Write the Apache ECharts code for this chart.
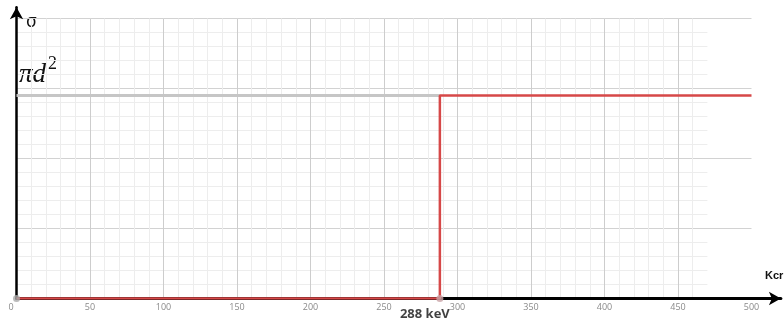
<!DOCTYPE html>
<html>
<head>
<meta charset="utf-8">
<script src="https://cdn.jsdelivr.net/npm/echarts@6/dist/echarts.min.js"></script>
<style>html,body{margin:0;padding:0;background:#fff}#c{width:784px;height:322px}</style>
</head>
<body>
<div id="c"></div>
<script>
// ---- data ----
const thresholdKeV = 288;
const sigmaLevel = 145;           // level of pi d^2 on the y scale (0..200)
const stepX = [0, 288, 288, 500];
const stepY = [0, 0, 145, 145];
const levelX = [0, 288];
const levelY = [145, 145];
const pointX = [0, 288];
const pointY = [0, 0];
const xTickStep = 50;
const xTickMax = 500;
const thresholdLabel = '288 keV';
const xName = 'Kcr';
const yName = 'σ';

const zip = (a, b) => a.map((v, i) => [v, b[i]]);

const L = 16.5, PX = 1.47, BASE = 298.5, PY = 1.4;
const chart = echarts.init(document.getElementById('c'));
const hidden = { axisLine: { show: false }, axisTick: { show: false }, axisLabel: { show: false } };

chart.setOption({
  animation: false,
  grid: [
    { left: L, top: BASE - 200 * PY, width: 470 * PX, height: 200 * PY },
    { left: L, top: BASE - 200 * PY, width: 470 * PX, height: 200 * PY },
    { left: L, top: BASE - 200 * PY, width: 500 * PX, height: 200 * PY },
    { left: L, top: BASE - 208 * PY, width: 520 * PX, height: 208 * PY }
  ],
  xAxis: [
    Object.assign({ gridIndex: 0, type: 'value', min: 0, max: 470, interval: 10,
      splitLine: { show: true, showMaxLine: false, lineStyle: { color: '#ededed', width: 1 } } }, hidden),
    Object.assign({ gridIndex: 1, type: 'value', min: 0, max: 470, interval: 50,
      splitLine: { show: true, showMaxLine: false, showMinLine: false, lineStyle: { color: '#cdcdcd', width: 1 } } }, hidden),
    Object.assign({ gridIndex: 2, type: 'value', min: 0, max: 500, interval: 50, splitLine: { show: false } }, hidden),
    { gridIndex: 3, type: 'value', min: 0, max: 520, interval: xTickStep,
      splitLine: { show: false },
      axisTick: { show: false },
      axisLine: { show: true, onZero: false, symbol: ['none', 'arrow'], symbolSize: [10, 12],
        lineStyle: { color: '#000', width: 3 } },
      axisLabel: { show: true, margin: 4, color: '#8a8a8a', fontSize: 9, fontFamily: 'Open Sans',
        showMaxLabel: false,
        formatter: v => (v % xTickStep === 0 && v <= xTickMax) ? (v === 0 ? '{z|0}' : String(v)) : '',
        rich: { z: { padding: [0, 11, 0, 0], fontSize: 9, color: '#8a8a8a', fontFamily: 'Open Sans' } } }
    }
  ],
  yAxis: [
    Object.assign({ gridIndex: 0, type: 'value', min: 0, max: 200, interval: 10,
      splitLine: { show: true, showMinLine: false, lineStyle: { color: '#ededed', width: 1 } } }, hidden),
    Object.assign({ gridIndex: 1, type: 'value', min: 0, max: 200, interval: 50, splitLine: { show: false } }, hidden),
    Object.assign({ gridIndex: 2, type: 'value', min: 0, max: 200, interval: 50,
      splitLine: { show: true, showMinLine: false, lineStyle: { color: '#d2d2d2', width: 1 } } }, hidden),
    { gridIndex: 3, type: 'value', min: 0, max: 208, interval: 50,
      splitLine: { show: false }, axisTick: { show: false }, axisLabel: { show: false },
      axisLine: { show: true, onZero: false, symbol: ['none', 'arrow'], symbolSize: [10, 12],
        lineStyle: { color: '#000', width: 2.5 } } }
  ],
  series: [
    { type: 'line', xAxisIndex: 3, yAxisIndex: 3, data: zip(levelX, levelY), symbol: 'none',
      lineStyle: { color: '#c6c6c6', width: 3 }, z: 3 },
    { type: 'line', xAxisIndex: 3, yAxisIndex: 3, data: zip(stepX, stepY), symbol: 'none',
      lineStyle: { color: '#d64848', width: 2.5 }, z: 4 },
    { type: 'scatter', xAxisIndex: 3, yAxisIndex: 3, data: zip(pointX, pointY), symbolSize: 7,
      itemStyle: { color: (p) => p.dataIndex === 0 ? '#a9a9a9' : '#c9a3a6' }, z: 5,
      label: { show: true, position: 'bottom', distance: 3, offset: [-15, 3],
        formatter: p => p.value[0] === thresholdKeV ? thresholdLabel : '',
        fontSize: 13, fontWeight: 'bold', color: '#111', fontFamily: 'Open Sans' } }
  ],
  graphic: [
    { type: 'text', left: 26, top: 14, style: { text: yName, fontSize: 17, fill: '#111', fontFamily: 'DejaVu Sans' } },
    { type: 'text', left: 19, top: 61, style: { text: 'πd', fontSize: 27, fontStyle: 'italic', fill: '#111', fontFamily: 'Liberation Serif' } },
    { type: 'text', left: 48, top: 55, style: { text: '2', fontSize: 18, fill: '#111', fontFamily: 'Liberation Serif' } },
    { type: 'text', left: 765, top: 270, style: { text: xName, fontSize: 11, fontWeight: 'bold', fill: '#111', fontFamily: 'Liberation Sans' } }
  ]
});
</script>
</body>
</html>
